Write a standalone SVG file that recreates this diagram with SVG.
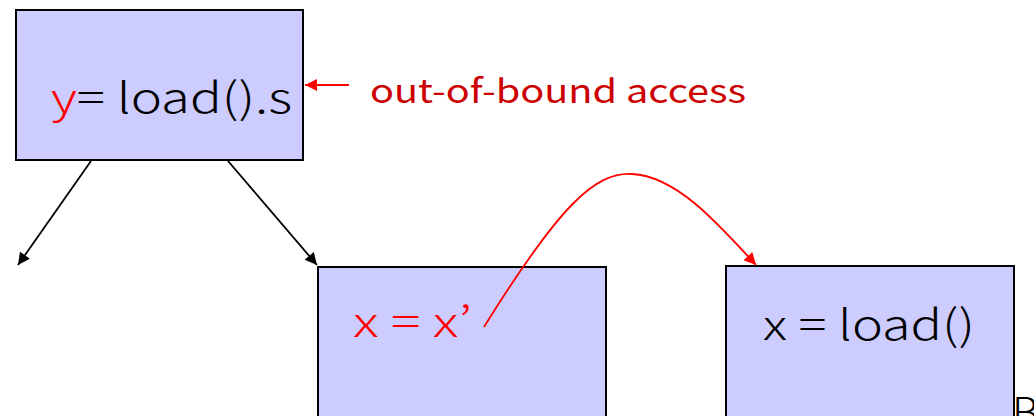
<svg xmlns="http://www.w3.org/2000/svg" width="1034" height="416" viewBox="0 0 1034 416">
<style>
.box{fill:#ccccff;stroke:#000;stroke-width:2}
.t{font-family:"Noto Sans CJK KR","Noto Sans","Liberation Sans",sans-serif;font-weight:300;font-size:42px;fill:#000}
.red{fill:#ff0000}
.conn{fill:none;stroke-width:1.8}
</style>
<defs>
<marker id="ab" viewBox="0 0 10 10" refX="10" refY="5" markerWidth="14" markerHeight="12" markerUnits="userSpaceOnUse" orient="auto"><path d="M0,0 L10,5 L0,10 z" fill="#000"/></marker>
<marker id="ar" viewBox="0 0 10 10" refX="10" refY="5" markerWidth="14" markerHeight="12" markerUnits="userSpaceOnUse" orient="auto"><path d="M0,0 L10,5 L0,10 z" fill="#ff0000"/></marker>
</defs>
<rect width="1034" height="416" fill="#fff"/>
<g id="n1">
<rect class="box" x="16" y="10" width="287" height="150"/>
<text class="t" x="51" y="113" textLength="241" lengthAdjust="spacingAndGlyphs"><tspan class="red">y</tspan>= load().s</text>
</g>
<g id="n2">
<rect class="box" x="318" y="267" width="288" height="160"/>
<text class="t red" x="353" y="337" textLength="119" lengthAdjust="spacingAndGlyphs">x = x’</text>
</g>
<g id="n3">
<rect class="box" x="726" y="266" width="288" height="160"/>
<text class="t" x="763" y="340" textLength="212" lengthAdjust="spacingAndGlyphs">x = load()</text>
</g>
<g id="label">
<text x="370" y="103" textLength="376" lengthAdjust="spacingAndGlyphs" style="font-family:'Noto Sans CJK KR','Noto Sans','Liberation Sans',sans-serif;font-weight:400;font-size:33px;fill:#cc0000">out-of-bound access</text>
</g>
<g id="cut">
<text class="t" x="1012" y="428">B</text>
</g>
<g id="connectors">
<line class="conn" x1="349" y1="85" x2="305" y2="85" stroke="#ff0000" marker-end="url(#ar)"/>
<line class="conn" x1="91" y1="161" x2="18" y2="265" stroke="#000" marker-end="url(#ab)"/>
<line class="conn" x1="228" y1="161" x2="317" y2="265" stroke="#000" marker-end="url(#ab)"/>
<path class="conn" d="M484,327 C560,205 595,172 632,174 C675,176 715,220 756,265" stroke="#ff0000" marker-end="url(#ar)"/>
</g>
</svg>
